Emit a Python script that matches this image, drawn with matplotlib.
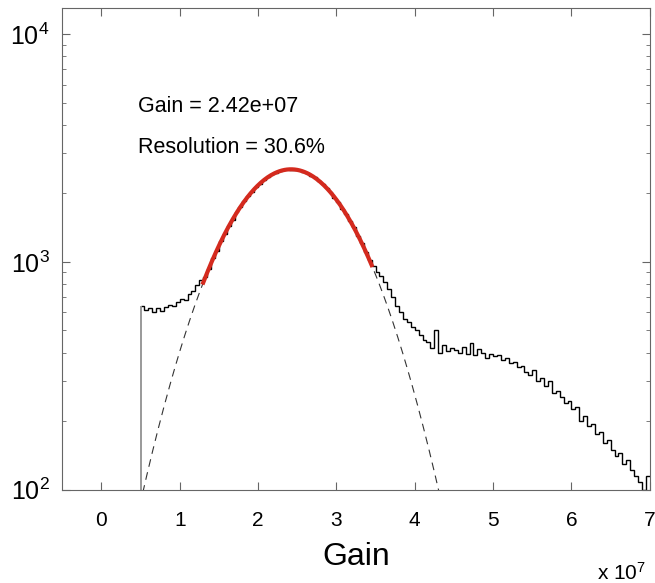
import numpy as np
import matplotlib.pyplot as plt

# Gain histogram (x in units of 1e7), bins of 0.05 starting at 0.5
bin_start = 0.5
bin_width = 0.05

counts_low = [640, 615, 625, 600, 630, 610, 635, 650, 640, 670, 690, 680,
              720, 745, 790, 830]
counts_peak = [860, 935, 1040, 1120, 1235, 1320, 1440, 1530, 1650, 1735,
               1850, 1950, 2030, 2140, 2200, 2295, 2350, 2420, 2455, 2510,
               2520, 2560, 2545, 2535, 2520, 2490, 2460, 2395, 2350, 2265,
               2200, 2105, 2030, 1915, 1830, 1715, 1625, 1510, 1420, 1300,
               1215, 1100, 1020]
counts_tail = [960, 900, 870, 820, 760, 700, 640, 600, 560, 545, 520, 500,
               480, 455, 445, 420, 500, 400, 430, 405, 420, 410, 400, 425,
               395, 440, 390, 415, 400, 380, 395, 385, 390, 370, 380, 360,
               365, 345, 350, 330, 320, 335, 300, 310, 285, 300, 265, 270,
               255, 240, 245, 225, 230, 200, 210, 190, 195, 175, 180, 160,
               165, 150, 140, 145, 130, 135, 122, 115, 108, 100, 115]

# Gaussian fit results
fit_amp = 2550
fit_mean = 2.42
fit_sigma = 0.74
fit_lo, fit_hi = 1.3, 3.45

counts = np.array(counts_low + counts_peak + counts_tail)
edges = bin_start + bin_width * np.arange(len(counts) + 1)

plt.rcParams['font.family'] = ['Liberation Sans', 'DejaVu Sans']
plt.rcParams['mathtext.fontset'] = 'custom'
plt.rcParams['mathtext.rm'] = 'Liberation Sans'
plt.rcParams['mathtext.it'] = 'Liberation Sans:italic'

fig = plt.figure(figsize=(6.55, 5.83), dpi=100)
ax = fig.add_axes([0.095, 0.16, 0.897, 0.826])

ax.stairs(counts, edges, baseline=None, color='black', linewidth=1)
ax.vlines(edges[0], 1, counts[0], color='#888888', linewidth=1.2)

xg = np.linspace(0, 5, 400)
gauss = fit_amp * np.exp(-(xg - fit_mean) ** 2 / (2 * fit_sigma ** 2))
ax.plot(xg, gauss, color='#333333', linestyle=(0, (7, 5)), linewidth=0.8)

xr = np.linspace(fit_lo, fit_hi, 200)
ax.plot(xr, fit_amp * np.exp(-(xr - fit_mean) ** 2 / (2 * fit_sigma ** 2)),
        color='#d42a1e', linewidth=3)

ax.set_yscale('log')
ax.set_xlim(-0.5, 7)
ax.set_ylim(100, 13000)
ax.set_xticks(range(0, 8))
yt = [100, 1000, 10000]
ax.set_yticks(yt)
ax.set_yticklabels([r'$10^{%d}$' % int(np.log10(v)) for v in yt], fontsize=18)

for s in ax.spines.values():
    s.set_color('#666666')
ax.tick_params(which='both', direction='in', top=True, right=True,
               color='#666666')
ax.tick_params(which='major', length=6)
ax.tick_params(axis='x', which='major', labelsize=15, pad=15)
ax.tick_params(axis='y', which='major', pad=9)
ax.tick_params(which='minor', length=3)

ax.text(0.47, 4800, 'Gain = 2.42e+07', fontsize=15.5, va='center')
ax.text(0.47, 3190, 'Resolution = 30.6%', fontsize=15.5, va='center')

ax.set_xlabel('Gain', fontsize=23, labelpad=9)
fig.text(0.912, 0.005, r'x 10$^{7}$', fontsize=15)

fig.savefig('out.png', dpi=100)
